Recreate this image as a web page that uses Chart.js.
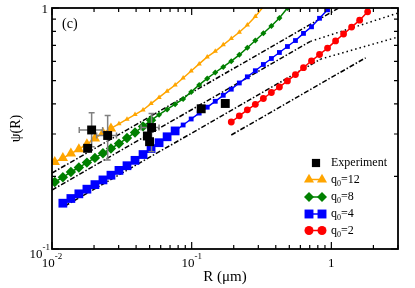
<!DOCTYPE html>
<html>
<head>
<meta charset="utf-8">
<script src="https://cdn.jsdelivr.net/npm/chart.js@4/dist/chart.umd.min.js"></script>
<style>
  body { margin: 0; background: #fff; }
  #wrap { width: 415px; height: 288px; position: relative; }
</style>
</head>
<body>
<div id="wrap"><canvas id="psi-chart"></canvas></div>
<script>
// Radius (um) and psi(R) for each model curve
const rOrange = [0.01047, 0.01196, 0.01365, 0.01557, 0.01778, 0.02029, 0.02316, 0.02643, 0.03016, 0.03443, 0.03930, 0.04485, 0.05119, 0.05843, 0.06669, 0.07612, 0.08688, 0.09917, 0.1132, 0.1292, 0.1475, 0.1683, 0.1921, 0.2193, 0.2503, 0.2856, 0.3260];
const psiOrange = [0.2296, 0.2384, 0.2488, 0.2595, 0.2722, 0.2872, 0.3029, 0.3165, 0.3308, 0.3456, 0.3612, 0.3774, 0.4012, 0.4256, 0.4517, 0.4792, 0.5123, 0.5477, 0.5861, 0.6268, 0.6612, 0.7036, 0.7470, 0.7930, 0.8503, 0.9228, 1.012];

const rGreen = [0.01047, 0.01196, 0.01365, 0.01557, 0.01778, 0.02029, 0.02316, 0.02643, 0.03016, 0.03443, 0.03930, 0.04485, 0.05119, 0.05843, 0.06669, 0.07612, 0.08688, 0.09917, 0.1132, 0.1292, 0.1475, 0.1683, 0.1921, 0.2193, 0.2503, 0.2856, 0.3260, 0.3721, 0.4247, 0.4848];
const psiGreen = [0.1897, 0.1984, 0.2087, 0.2178, 0.2283, 0.2388, 0.2497, 0.2612, 0.2738, 0.2886, 0.3044, 0.3226, 0.3420, 0.3609, 0.3796, 0.3989, 0.4192, 0.4487, 0.4796, 0.5104, 0.5400, 0.5696, 0.6016, 0.6394, 0.6844, 0.7328, 0.7852, 0.8419, 0.9089, 1.0];

const rBlue = [0.01196, 0.01365, 0.01557, 0.01778, 0.02029, 0.02316, 0.02643, 0.03016, 0.03443, 0.03930, 0.04485, 0.05119, 0.05843, 0.06669, 0.07612, 0.08688, 0.09917, 0.1132, 0.1292, 0.1475, 0.1683, 0.1921, 0.2193, 0.2503, 0.2856, 0.3260, 0.3721, 0.4247, 0.4848, 0.5533, 0.6316, 0.7209, 0.8228, 0.9391];
const psiBlue = [0.1549, 0.1620, 0.1694, 0.1771, 0.1850, 0.1935, 0.2024, 0.2119, 0.2216, 0.2333, 0.2466, 0.2610, 0.2761, 0.2922, 0.3090, 0.3270, 0.3463, 0.3664, 0.3876, 0.4101, 0.4343, 0.4604, 0.4885, 0.5182, 0.5492, 0.5829, 0.6173, 0.6537, 0.6921, 0.7328, 0.7845, 0.8356, 0.9064, 0.9829];

const rRed = [0.1921, 0.2193, 0.2503, 0.2856, 0.3260, 0.3721, 0.4247, 0.4848, 0.5533, 0.6316, 0.7209, 0.8228, 0.9391, 1.072, 1.223, 1.396, 1.594, 1.819];
const psiRed = [0.3365, 0.3570, 0.3781, 0.3985, 0.4212, 0.4461, 0.4701, 0.4983, 0.5293, 0.5653, 0.6038, 0.6413, 0.6818, 0.7301, 0.7800, 0.8331, 0.8901, 0.9643];

// Experiment points + error bars (null = no bar)
const expR = [0.01922, 0.02503, 0.01799, 0.0516, 0.04817, 0.04995, 0.1170, 0.1740];
const expPsi = [0.3118, 0.2958, 0.2617, 0.3192, 0.2943, 0.2788, 0.3818, 0.4016];
const expRLo = [0.01567, 0.02087, null, 0.0434, null, null, null, null];
const expRHi = [0.02304, 0.02895, null, 0.0584, null, null, null, null];
const expPsiLo = [0.2657, 0.234, null, 0.2533, null, null, null, null];
const expPsiHi = [0.3678, 0.358, null, 0.3650, null, null, null, null];

// Power-law guide lines (dash-dot) and their dotted continuations
const guide1R = [0.01, 1.13], guide1Psi = [0.2067, 1.0];
const guide2R = [0.01, 0.709], guide2Psi = [0.1757, 0.727];
const guide2DotR = [0.709, 3], guide2DotPsi = [0.727, 0.953];
const guide3R = [0.01235, 0.8366], guide3Psi = [0.1508, 0.6137];
const guide3DotR = [0.8366, 3], guide3DotPsi = [0.6137, 0.758];
const guide4R = [0.1921, 1.76], guide4Psi = [0.2972, 0.6214];

// Axis ticks
const xMajor = [0.01, 0.1, 1];
const xMajorText = [["10", "-2"], ["10", "-1"], ["1", ""]];
const xMinor = [0.02, 0.03, 0.04, 0.05, 0.06, 0.07, 0.08, 0.09, 0.2, 0.3, 0.4, 0.5, 0.6, 0.7, 0.8, 0.9, 2, 3];
const yMajor = [0.1, 1];
const yMajorText = [["10", "-1"], ["1", ""]];
const yMinor = [0.2, 0.3, 0.4, 0.5, 0.6, 0.7, 0.8, 0.9];

const FONT = '"Liberation Serif", "Times New Roman", serif';

const pts = (xs, ys) => xs.map((v, i) => ({ x: v, y: ys[i] }));

function curve(label, xs, ys, color, style, bigR, smallR, cut) {
  return {
    label: label,
    data: pts(xs, ys),
    showLine: true,
    borderColor: color,
    backgroundColor: color,
    borderWidth: 1.5,
    pointStyle: style,
    pointBorderWidth: 0,
    pointRadius: (c) => (c.raw && c.raw.y > 1 ? 0 : (c.raw && c.raw.x < cut ? bigR : smallR)),
    order: 1,
    clip: 0,
  };
}

function guide(xs, ys, dash) {
  return {
    data: pts(xs, ys),
    showLine: true,
    borderColor: "#000",
    borderWidth: 1.5,
    borderDash: dash,
    pointRadius: 0,
    order: 2,
    clip: 0,
  };
}

const DASHDOT = [5, 2, 1.5, 2];
const DOTS = [1.5, 3];

const datasets = [
  {
    label: "Experiment",
    data: pts(expR, expPsi),
    backgroundColor: "#000",
    pointStyle: "rect",
    pointRadius: 6.3,
    pointBorderWidth: 0,
    showLine: false,
    order: 0,
    clip: 0,
  },
  curve("q0=12", rOrange, psiOrange, "#ffa500", "triangle", 6, 3, 0.028),
  curve("q0=8", rGreen, psiGreen, "#008000", "rectRot", 5.2, 3, 0.052),
  curve("q0=4", rBlue, psiBlue, "#0000ff", "rect", 6.2, 3.4, 0.082),
  curve("q0=2", rRed, psiRed, "#ff0000", "circle", 3.4, 3.4, 0),
  guide(guide1R, guide1Psi, DASHDOT),
  guide(guide2R, guide2Psi, DASHDOT),
  guide(guide2DotR, guide2DotPsi, DOTS),
  guide(guide3R, guide3Psi, DASHDOT),
  guide(guide3DotR, guide3DotPsi, DOTS),
  guide(guide4R, guide4Psi, DASHDOT),
];

// legend rows: marker style, colour, text pieces
const legendRows = [
  { style: "rect", color: "#000", main: "Experiment", sub: "", rest: "", single: true },
  { style: "triangle", color: "#ffa500", main: "q", sub: "0", rest: "=12" },
  { style: "rectRot", color: "#008000", main: "q", sub: "0", rest: "=8" },
  { style: "rect", color: "#0000ff", main: "q", sub: "0", rest: "=4" },
  { style: "circle", color: "#ff0000", main: "q", sub: "0", rest: "=2" },
];

function marker(ctx, style, x, y, r) {
  ctx.beginPath();
  if (style === "circle") {
    ctx.arc(x, y, r, 0, Math.PI * 2);
  } else if (style === "rect") {
    const s = r * Math.SQRT1_2;
    ctx.rect(x - s, y - s, 2 * s, 2 * s);
  } else if (style === "rectRot") {
    ctx.moveTo(x, y - r); ctx.lineTo(x + r, y); ctx.lineTo(x, y + r); ctx.lineTo(x - r, y);
    ctx.closePath();
  } else if (style === "triangle") {
    for (let k = 0; k < 3; k++) {
      const a = k * 2 * Math.PI / 3;
      const px = x + Math.sin(a) * r, py = y - Math.cos(a) * r;
      if (k === 0) ctx.moveTo(px, py); else ctx.lineTo(px, py);
    }
    ctx.closePath();
  }
  ctx.fill();
}

function powLabel(ctx, base, exp, x, y, align) {
  ctx.font = "13px " + FONT;
  const wb = ctx.measureText(base).width;
  ctx.font = "9px " + FONT;
  const we = exp ? ctx.measureText(exp).width : 0;
  const left = align === "right" ? x - wb - we : x - (wb + we) / 2;
  ctx.textAlign = "left";
  ctx.textBaseline = "middle";
  ctx.font = "13px " + FONT;
  ctx.fillText(base, left, y);
  if (exp) {
    ctx.font = "9px " + FONT;
    ctx.fillText(exp, left + wb, y - 7);
  }
}

const EXP_INDEX = 0;

const decor = {
  id: "decor",
  beforeDatasetDraw(chart, args) {
    if (args.index !== EXP_INDEX) return;
    const { ctx, scales: { x, y } } = chart;
    ctx.save();
    ctx.strokeStyle = "#808080";
    ctx.lineWidth = 1.5;
    expR.forEach((r, i) => {
      const px = x.getPixelForValue(r), py = y.getPixelForValue(expPsi[i]);
      ctx.beginPath();
      if (expRLo[i] != null) {
        const a = x.getPixelForValue(expRLo[i]), b = x.getPixelForValue(expRHi[i]);
        ctx.moveTo(a, py); ctx.lineTo(b, py);
        ctx.moveTo(a, py - 3); ctx.lineTo(a, py + 3);
        ctx.moveTo(b, py - 3); ctx.lineTo(b, py + 3);
      }
      if (expPsiLo[i] != null) {
        const a = y.getPixelForValue(expPsiLo[i]), b = y.getPixelForValue(expPsiHi[i]);
        ctx.moveTo(px, a); ctx.lineTo(px, b);
        ctx.moveTo(px - 3, a); ctx.lineTo(px + 3, a);
        ctx.moveTo(px - 3, b); ctx.lineTo(px + 3, b);
      }
      ctx.stroke();
    });
    ctx.restore();
  },
  afterDraw(chart) {
    const { ctx, chartArea: a, scales: { x, y } } = chart;
    ctx.save();
    ctx.strokeStyle = "#000";
    ctx.fillStyle = "#000";

    // frame
    ctx.lineWidth = 1.8;
    ctx.strokeRect(a.left, a.top, a.right - a.left, a.bottom - a.top);

    // inward ticks on all four sides
    ctx.lineWidth = 1.2;
    ctx.beginPath();
    const xt = (v, len) => {
      const p = x.getPixelForValue(v);
      ctx.moveTo(p, a.bottom); ctx.lineTo(p, a.bottom - len);
      ctx.moveTo(p, a.top); ctx.lineTo(p, a.top + len);
    };
    const yt = (v, len) => {
      const p = y.getPixelForValue(v);
      ctx.moveTo(a.left, p); ctx.lineTo(a.left + len, p);
      ctx.moveTo(a.right, p); ctx.lineTo(a.right - len, p);
    };
    xMajor.forEach((v) => xt(v, 7));
    xMinor.forEach((v) => xt(v, 4));
    yMajor.forEach((v) => yt(v, 7));
    yMinor.forEach((v) => yt(v, 4));
    ctx.stroke();

    // tick labels
    xMajor.forEach((v, i) => powLabel(ctx, xMajorText[i][0], xMajorText[i][1], x.getPixelForValue(v), a.bottom + 15, "center"));
    powLabel(ctx, yMajorText[0][0], yMajorText[0][1], a.left - 2, y.getPixelForValue(0.1) + 6, "right");
    powLabel(ctx, yMajorText[1][0], yMajorText[1][1], a.left - 4, y.getPixelForValue(1) + 2, "right");

    // axis titles
    ctx.textAlign = "center";
    ctx.textBaseline = "middle";
    ctx.font = "15px " + FONT;
    ctx.fillText("R (\u03bcm)", (a.left + a.right) / 2, 277);
    ctx.save();
    ctx.translate(16, (a.top + a.bottom) / 2);
    ctx.rotate(-Math.PI / 2);
    ctx.font = "14px " + FONT;
    ctx.fillText("\u03c8(R)", 0, 0);
    ctx.restore();

    // panel tag
    ctx.textAlign = "left";
    ctx.font = "14px " + FONT;
    ctx.fillText("(c)", 62, 24);

    // legend
    const rowY = [163, 179.5, 197, 214, 230.5];
    legendRows.forEach((row, i) => {
      const ly = rowY[i];
      ctx.fillStyle = row.color;
      ctx.strokeStyle = row.color;
      if (row.single) {
        marker(ctx, "rect", 316, ly, 5.8);
      } else {
        ctx.lineWidth = 1.5;
        ctx.beginPath(); ctx.moveTo(309, ly); ctx.lineTo(322, ly); ctx.stroke();
        const r = row.style === "rect" ? 6.3 : row.style === "triangle" ? 5.8 : row.style === "rectRot" ? 5 : 4.5;
        marker(ctx, row.style, 309, ly, r);
        marker(ctx, row.style, 322, ly, r);
      }
      ctx.fillStyle = "#000";
      ctx.textBaseline = "middle";
      ctx.font = "12px " + FONT;
      ctx.fillText(row.main, 331, ly);
      if (row.sub) {
        const w = ctx.measureText(row.main).width;
        ctx.font = "8px " + FONT;
        ctx.fillText(row.sub, 331 + w, ly + 4);
        const ws = ctx.measureText(row.sub).width;
        ctx.font = "12px " + FONT;
        ctx.fillText(row.rest, 331 + w + ws, ly);
      }
    });
    ctx.restore();
  },
};

new Chart(document.getElementById("psi-chart"), {
  type: "scatter",
  data: { datasets: datasets },
  options: {
    responsive: true,
    maintainAspectRatio: false,
    animation: false,
    events: [],
    layout: { padding: { left: 52, top: 8, right: 17, bottom: 39 } },
    plugins: { legend: { display: false }, tooltip: { enabled: false } },
    scales: {
      x: { type: "logarithmic", min: 0.01, max: 3, display: false },
      y: { type: "logarithmic", min: 0.1, max: 1, display: false },
    },
  },
  plugins: [decor],
});
</script>
</body>
</html>
